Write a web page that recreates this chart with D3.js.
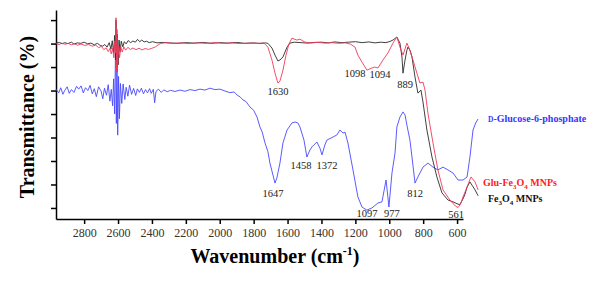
<!DOCTYPE html>
<html>
<head>
<meta charset="utf-8">
<script src="https://cdn.jsdelivr.net/npm/d3@7"></script>
<style>
  body { margin: 0; background: #fff; }
  svg { display: block; font-family: "Liberation Serif", "Times New Roman", serif; }
  .axis path, .axis line { stroke: #000; stroke-width: 1.5; }
  .line { fill: none; stroke-linejoin: round; }
</style>
</head>
<body>
<script>
//////////////// Datas ////////////////////
// [wavenumber (cm-1), transmittance (a.u.)]
var fe3o4 = [
  [2966,70.2],[2945,70.5],[2930,69.9],[2915,70.4],[2895,70.0],[2875,70.6],[2860,69.8],[2840,70.3],
  [2820,70.1],[2800,70.6],[2780,69.9],[2760,70.2],[2740,69.5],[2722,70.1],[2705,69.2],[2690,68.9],
  [2678,69.6],[2665,68.5],[2652,70.4],[2642,67.6],[2634,71.2],[2626,66.0],[2620,73.5],[2615,63],
  [2612,80],[2608,58],[2604,74],[2599,61],[2594,71.5],[2588,66.5],[2581,71.0],[2572,68.6],
  [2563,70.8],[2552,69.9],[2540,71.3],[2526,70.4],[2512,71.1],[2498,70.6],[2485,71.8],[2472,70.8],
  [2460,71.5],[2446,70.7],[2432,71.0],[2416,70.4],[2396,70.8],[2370,70.3],[2340,70.5],[2300,70.3],
  [2250,70.1],[2200,70.4],[2150,70.2],[2100,70.5],[2050,70.1],[2000,70.4],[1950,70.2],[1900,70.5],
  [1850,70.1],[1800,70.3],[1760,70.0],[1730,70.3],[1716,70.1],[1692,68.1],[1674,65.1],[1657,62.6],
  [1645,63.0],[1627,64.3],[1603,68.5],[1586,70.2],[1560,70.6],[1520,70.4],[1480,70.2],[1440,70.5],
  [1400,70.6],[1360,70.3],[1320,70.7],[1280,70.4],[1240,70.6],[1200,70.8],[1160,70.4],[1120,70.7],
  [1085,70.3],[1050,70.6],[1020,70.4],[996,70.9],[978,71.5],[955,72.8],[937,70.2],[925,64.3],
  [919,57.4],[907,63.0],[896,67.2],[890,68.5],[878,67.2],[866,64.3],[848,55.7],[831,48.9],
  [813,50.2],[801,45.1],[778,33.2],[748,21.7],[719,13.2],[689,6.4],[654,3.4],[624,2.6],[600,1.8],
  [585,1.4],[571,3.0],[555,5.5],[541,8.9],[524,11.1],[510,9.5],[494,7.7],[476,5.2]
];

var gluFe3o4 = [
  [2966,70.0],[2948,69.6],[2932,70.2],[2912,69.7],[2894,70.1],[2876,69.5],[2858,69.9],[2838,69.3],
  [2818,69.8],[2796,69.2],[2774,69.6],[2752,68.9],[2732,69.3],[2714,68.3],[2698,68.8],[2684,67.4],
  [2670,68.2],[2658,66.6],[2648,67.9],[2640,65.6],[2632,68.0],[2625,64],[2620,71],[2615,66],
  [2612,81],[2609,58],[2606,76],[2602,61],[2597,69],[2591,64],[2584,68.6],[2575,66.4],[2566,68.6],
  [2555,67.2],[2542,68.4],[2528,67.5],[2512,68.1],[2494,67.4],[2476,68.0],[2458,67.3],[2440,67.9],
  [2420,67.5],[2400,68.0],[2380,68.6],[2364,69.4],[2350,70.0],[2320,70.4],[2280,70.1],[2230,70.3],
  [2180,70.0],[2130,70.3],[2080,70.1],[2030,70.4],[1980,70.1],[1930,70.3],[1880,70.0],[1830,70.2],
  [1780,70.1],[1740,70.3],[1716,68.5],[1692,63.0],[1674,57.4],[1657,53.2],[1645,54.0],[1627,58.7],
  [1609,65.1],[1592,69.8],[1574,72.3],[1545,71.5],[1527,71.9],[1497,70.6],[1460,70.3],[1420,70.5],
  [1380,70.2],[1340,70.4],[1300,70.1],[1260,70.3],[1230,69.8],[1202,68.5],[1185,65.1],[1161,62.1],
  [1132,58.7],[1102,59.6],[1085,60.0],[1067,59.6],[1037,63.0],[1008,66.0],[978,70.2],[955,72.8],
  [937,68.5],[919,65.1],[896,70.2],[878,67.2],[860,63.0],[837,57.4],[819,53.2],[801,53.6],
  [789,50.2],[772,40.4],[742,27.7],[713,16.2],[683,7.7],[642,3.4],[610,0.8],[594,0.2],[580,1.5],
  [565,4.7],[541,8.9],[518,13.2],[494,11.1],[476,7.7]
];

var glucose6p = [
  [2966,50.6],[2950,49.0],[2938,51.2],[2925,48.4],[2915,50.0],[2900,51.6],[2888,48.8],[2875,50.4],
  [2860,49.2],[2845,51.8],[2832,50.6],[2818,52.0],[2805,49.0],[2792,51.2],[2778,50.0],[2765,52.2],
  [2752,48.6],[2740,50.8],[2728,47.4],[2715,51.6],[2700,49.8],[2690,46.5],[2680,51.0],[2668,48.0],
  [2658,52.5],[2648,45.5],[2640,50.5],[2632,43.5],[2626,55],[2620,40],[2614,72],[2610,36],
  [2606,62],[2602,31],[2597,56],[2592,38],[2586,53],[2578,44.5],[2570,52.8],[2560,46.2],
  [2552,51.4],[2542,47.6],[2532,52.3],[2520,48.4],[2508,50.9],[2496,47.9],[2486,50.7],[2474,49.2],
  [2462,51.0],[2450,48.6],[2438,50.4],[2426,49.0],[2414,50.8],[2404,48.8],[2392,50.5],[2384,44.8],
  [2376,49.6],[2362,50.6],[2345,49.2],[2330,50.3],[2310,49.5],[2290,50.1],[2264,49.6],[2235,50.2],
  [2205,49.7],[2176,50.4],[2146,50.0],[2117,50.6],[2087,50.2],[2058,51.0],[2028,50.4],[1999,50.6],
  [1969,49.8],[1940,49.1],[1915,49.4],[1898,48.1],[1880,47.3],[1863,46.0],[1845,45.3],[1822,43.0],
  [1800,41.6],[1780,38.7],[1763,34.5],[1750,32.4],[1733,27.7],[1716,24.0],[1704,19.1],[1686,14.0],
  [1674,10.6],[1663,12.8],[1645,19.1],[1627,27.7],[1603,33.2],[1574,36.2],[1556,36.6],[1539,36.2],
  [1527,34.5],[1503,28.9],[1486,21.7],[1468,24.7],[1456,26.0],[1427,28.1],[1409,25.5],[1397,22.6],
  [1380,26.8],[1368,28.9],[1332,30.2],[1309,31.1],[1291,33.2],[1273,31.9],[1261,32.3],[1244,27.7],
  [1214,16.2],[1185,4.7],[1161,0.4],[1132,-0.9],[1102,0],[1067,2.1],[1043,2.6],[1019,11.9],
  [1008,4.7],[1002,0.4],[984,14.9],[966,23.4],[955,34.5],[937,38.7],[919,40.9],[907,39.6],
  [896,35.3],[878,28.9],[866,21.7],[848,10.6],[831,13.2],[801,17.4],[772,19.1],[742,17.4],
  [713,16.2],[683,17.4],[654,16.2],[624,14.9],[594,11.9],[565,11.9],[541,13.2],[524,21.7],
  [506,33.2],[490,36.2],[476,37.9]
];

var xTicks = [2800,2600,2400,2200,2000,1800,1600,1400,1200,1000,800,600];
var yTicks = [0,10,20,30,40,50,60,70,80];

// peak labels: [text, wavenumber, transmittance]
var peaks = [
  ["1630",1657,48.1],["1098",1202,55.7],["1094",1055,55.3],["889",907,51.1],
  ["1647",1686,4.7],["1458",1521,16.6],["1372",1368,16.6],["1097",1132,-3.8],
  ["977",984,-3.8],["812",848,4.7],["561",606,-4.3]
];

//////////////// SVG ////////////////////
var width = 600, height = 286;
var svg = d3.select("body").append("svg")
  .attr("width", width)
  .attr("height", height);

//////////////// Scaling ///////////////
var x = d3.scaleLinear().domain([2966, 565]).range([56, 463]);
var y = d3.scaleLinear().domain([-4.7, 84.3]).range([219, 10]);

//////////////// Axis ///////////////
var xAxis = svg.append("g")
  .attr("class", "axis")
  .attr("transform", "translate(0,219)")
  .call(d3.axisBottom(x).tickValues(xTicks).tickSize(5).tickSizeOuter(0).tickPadding(4)
    .tickFormat(d3.format("d")));
xAxis.selectAll("text")
  .style("font-family", "'Liberation Serif', serif")
  .style("font-size", "12px")
  .attr("fill", "#333");

svg.append("g")
  .attr("class", "axis")
  .attr("transform", "translate(56,0)")
  .call(d3.axisLeft(y).tickValues(yTicks).tickSize(5).tickSizeOuter(0).tickFormat(""));

//////////////// Lines ///////////////
var line = d3.line()
  .x(function(d) { return x(d[0]); })
  .y(function(d) { return y(d[1]); });

svg.append("path").datum(glucose6p).attr("class", "line")
  .attr("stroke", "#4848ff").attr("stroke-width", 0.9).attr("d", line);
svg.append("path").datum(fe3o4).attr("class", "line")
  .attr("stroke", "#2a2a2a").attr("stroke-width", 0.9).attr("d", line);
svg.append("path").datum(gluFe3o4).attr("class", "line")
  .attr("stroke", "#f03a5a").attr("stroke-width", 0.9).attr("d", line);

//////////////// Labels ///////////////
svg.selectAll("text.peak")
  .data(peaks)
  .enter()
  .append("text")
  .attr("class", "peak")
  .attr("x", function(d) { return x(d[1]); })
  .attr("y", function(d) { return y(d[2]); })
  .attr("text-anchor", "middle")
  .style("font-size", "10.5px")
  .attr("fill", "#222")
  .text(function(d) { return d[0]; });

svg.append("text")
  .attr("transform", "translate(34,117) rotate(-90)")
  .attr("text-anchor", "middle")
  .style("font-size", "20px")
  .style("font-weight", "bold")
  .text("Transmittance (%)");

var xt = svg.append("text")
  .attr("x", 275).attr("y", 263)
  .attr("text-anchor", "middle")
  .style("font-size", "20px")
  .style("font-weight", "bold");
xt.append("tspan").text("Wavenumber (cm");
xt.append("tspan").attr("dy", -8).style("font-size", "12px").text("-1");
xt.append("tspan").attr("dy", 8).text(")");

// legend texts
var g1 = svg.append("text").attr("x", 488).attr("y", 122)
  .attr("fill", "#3535ff").style("font-size", "10px").style("font-weight", "bold");
g1.append("tspan").style("font-size", "7.5px").text("D");
g1.append("tspan").text("-Glucose-6-phosphate");

function feLabel(el, prefix) {
  el.append("tspan").text(prefix + "Fe");
  el.append("tspan").attr("dy", 2.5).style("font-size", "7px").text("3");
  el.append("tspan").attr("dy", -2.5).text("O");
  el.append("tspan").attr("dy", 2.5).style("font-size", "7px").text("4");
  el.append("tspan").attr("dy", -2.5).text(" MNPs");
}

var g2 = svg.append("text").attr("x", 483).attr("y", 186)
  .attr("fill", "#ff2020").style("font-size", "10px").style("font-weight", "bold");
feLabel(g2, "Glu-");

var g3 = svg.append("text").attr("x", 488).attr("y", 202)
  .attr("fill", "#111").style("font-size", "10px").style("font-weight", "bold");
feLabel(g3, "");
</script>
</body>
</html>
